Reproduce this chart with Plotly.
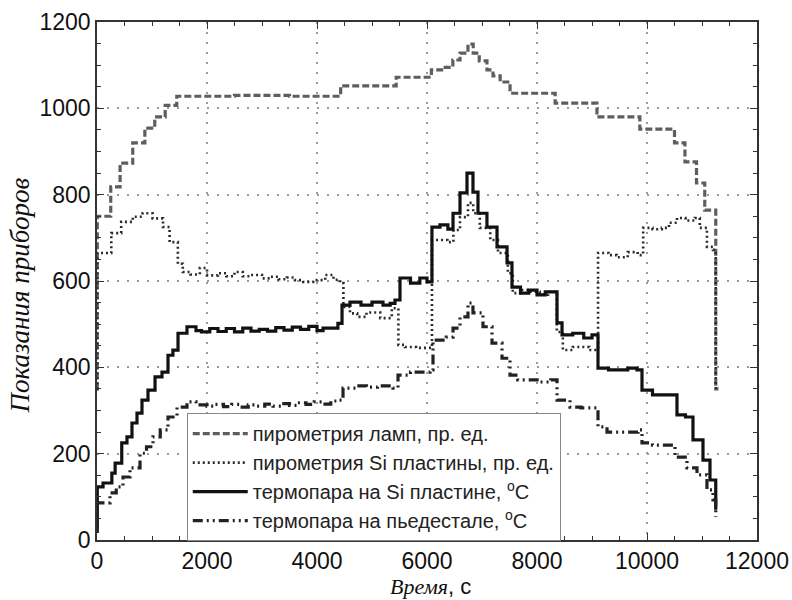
import plotly.graph_objects as go

# ---- data (time, s / reading) ----
lamp_t = [0, 5, 250, 420, 650, 870, 1050, 1240, 1450, 2500, 3500, 4430, 5440, 6080, 6300, 6470, 6600, 6745, 6840, 6950, 7090, 7200, 7330, 7510, 8330, 9090, 9870, 10500, 10690, 10900, 11050, 11250, 11300]
lamp_v = [350, 750, 818, 873, 920, 954, 980, 1007, 1028, 1030, 1028, 1052, 1072, 1089, 1095, 1112, 1128, 1149, 1128, 1110, 1089, 1075, 1061, 1035, 1012, 980, 952, 920, 876, 827, 764, 350, 350]

sipyro_t = [0, 5, 260, 440, 650, 830, 1010, 1200, 1320, 1470, 1560, 1700, 1870, 2000, 2200, 2350, 2500, 2650, 2800, 3000, 3150, 3300, 3450, 3600, 3750, 3930, 4150, 4300, 4420, 4480, 4600, 4730, 4900, 5150, 5360, 5480, 5600, 5800, 6090, 6370, 6480, 6600, 6745, 6840, 6960, 7150, 7290, 7470, 7560, 7700, 7850, 8050, 8200, 8360, 8470, 8650, 8840, 8950, 9110, 9300, 9450, 9650, 9830, 9930, 10100, 10270, 10400, 10545, 10700, 10870, 10960, 11090, 11200, 11250]
sipyro_v = [350, 665, 711, 737, 749, 757, 745, 725, 690, 640, 621, 615, 630, 613, 618, 611, 621, 611, 614, 606, 610, 604, 608, 602, 598, 602, 614, 603, 595, 540, 525, 517, 527, 514, 537, 452, 447, 445, 695, 690, 718, 748, 781, 757, 723, 695, 665, 618, 572, 579, 575, 568, 575, 482, 440, 447, 447, 440, 665, 660, 655, 667, 660, 723, 720, 723, 735, 746, 740, 746, 723, 679, 672, 350]

tcsi_t = [0, 5, 110, 270, 330, 450, 545, 636, 727, 818, 927, 1055, 1182, 1291, 1380, 1473, 1636, 1800, 1900, 2050, 2200, 2350, 2500, 2650, 2800, 2950, 3100, 3250, 3400, 3550, 3700, 3850, 4000, 4110, 4380, 4455, 4600, 4800, 5000, 5200, 5330, 5418, 5509, 5700, 5870, 6000, 6090, 6236, 6380, 6473, 6600, 6727, 6836, 6927, 7090, 7273, 7455, 7545, 7700, 7850, 8000, 8150, 8364, 8455, 8650, 8850, 9000, 9109, 9300, 9500, 9650, 9818, 9909, 10100, 10382, 10545, 10700, 10836, 11018, 11145, 11250]
tcsi_v = [30, 123, 132, 155, 178, 225, 239, 271, 294, 324, 347, 378, 389, 428, 440, 479, 494, 485, 482, 490, 483, 490, 482, 491, 484, 488, 484, 492, 486, 493, 488, 495, 485, 491, 502, 544, 551, 544, 551, 544, 548, 556, 607, 595, 607, 598, 725, 730, 720, 757, 804, 850, 806, 757, 725, 679, 642, 586, 572, 579, 568, 575, 503, 475, 479, 468, 475, 398, 394, 394, 398, 394, 347, 336, 336, 290, 285, 232, 185, 139, 70]

ped_t = [0, 5, 236, 350, 473, 600, 782, 900, 1018, 1150, 1291, 1455, 1636, 1800, 2000, 2150, 2300, 2450, 2600, 2750, 2900, 3050, 3200, 3350, 3500, 3650, 3800, 3950, 4100, 4250, 4364, 4473, 4700, 4900, 5100, 5382, 5473, 5700, 6055, 6109, 6350, 6473, 6600, 6745, 6836, 7018, 7182, 7364, 7509, 7650, 7850, 8050, 8250, 8364, 8600, 8800, 9018, 9109, 9273, 9500, 9836, 9909, 10100, 10364, 10509, 10727, 10909, 11090, 11200, 11250]
ped_v = [20, 86, 109, 123, 146, 167, 201, 216, 239, 255, 285, 308, 320, 313, 310, 314, 309, 314, 308, 313, 310, 315, 310, 316, 312, 318, 314, 320, 315, 322, 324, 352, 357, 354, 357, 352, 382, 389, 394, 463, 470, 491, 517, 549, 526, 494, 456, 421, 382, 371, 371, 366, 371, 324, 308, 306, 306, 262, 250, 250, 255, 225, 220, 220, 192, 167, 151, 116, 93, 53]

names = ["пирометрия ламп, пр. ед.",
         "пирометрия Si пластины, пр. ед.",
         "термопара на Si пластине, <sup>o</sup>C",
         "термопара на пьедестале, <sup>o</sup>C"]

x_title = "<i>Время</i><span style='font-family:Liberation Sans'>, с</span>"
y_title = "<i>Показания приборов</i>"

fig = go.Figure()
fig.add_trace(go.Scatter(x=lamp_t, y=lamp_v, mode="lines", name=names[0], line_shape="hv",
                         line=dict(color="#5e5e5e", width=3.2, dash="7px,3px")))
fig.add_trace(go.Scatter(x=sipyro_t, y=sipyro_v, mode="lines", name=names[1], line_shape="hv",
                         line=dict(color="#2a2a2a", width=2.6, dash="2px,3px")))
fig.add_trace(go.Scatter(x=tcsi_t, y=tcsi_v, mode="lines", name=names[2], line_shape="hv",
                         line=dict(color="#111111", width=3.2)))
fig.add_trace(go.Scatter(x=ped_t, y=ped_v, mode="lines", name=names[3], line_shape="hv",
                         line=dict(color="#222222", width=3.2, dash="10px,4px,2px,4px,2px,4px")))

axis_common = dict(showline=True, linecolor="#333", linewidth=1.5, mirror="ticks",
                   ticks="inside", ticklen=7, tickcolor="#333", tickwidth=1,
                   showgrid=True, gridcolor="#9a9a9a", griddash="2px,8px", gridwidth=1.5,
                   zeroline=False, tickformat="d",
                   tickfont=dict(family="Liberation Sans, Arial", size=23, color="#111"))

fig.update_xaxes(range=[0, 12000], dtick=2000, tick0=0,
                 minor=dict(dtick=500, ticks="inside", ticklen=4, tickcolor="#333", showgrid=False),
                 **axis_common)
fig.update_yaxes(range=[0, 1200], dtick=200, tick0=0,
                 minor=dict(dtick=50, ticks="inside", ticklen=4, tickcolor="#333", showgrid=False),
                 **axis_common)

fig.add_annotation(text=x_title, xref="paper", yref="paper", x=0.506, y=-0.0907,
                   xanchor="center", yanchor="middle", showarrow=False,
                   font=dict(family="Liberation Serif, Times New Roman", size=22, color="#111"))
fig.add_annotation(text=y_title, xref="paper", yref="paper", x=-0.1167, y=0.472,
                   xanchor="center", yanchor="middle", showarrow=False, textangle=-90,
                   font=dict(family="Liberation Serif, Times New Roman", size=27, color="#111"))

fig.update_layout(
    width=792, height=600,
    margin=dict(l=97, r=35, t=22, b=60, autoexpand=False),
    paper_bgcolor="white", plot_bgcolor="white",
    legend=dict(x=0.136, y=0.245, xanchor="left", yanchor="top",
                bgcolor="white", bordercolor="#888", borderwidth=1,
                font=dict(family="Liberation Sans, Arial", size=20, color="#222"),
                itemwidth=55, tracegroupgap=0),
)

fig.write_html("out.html")
